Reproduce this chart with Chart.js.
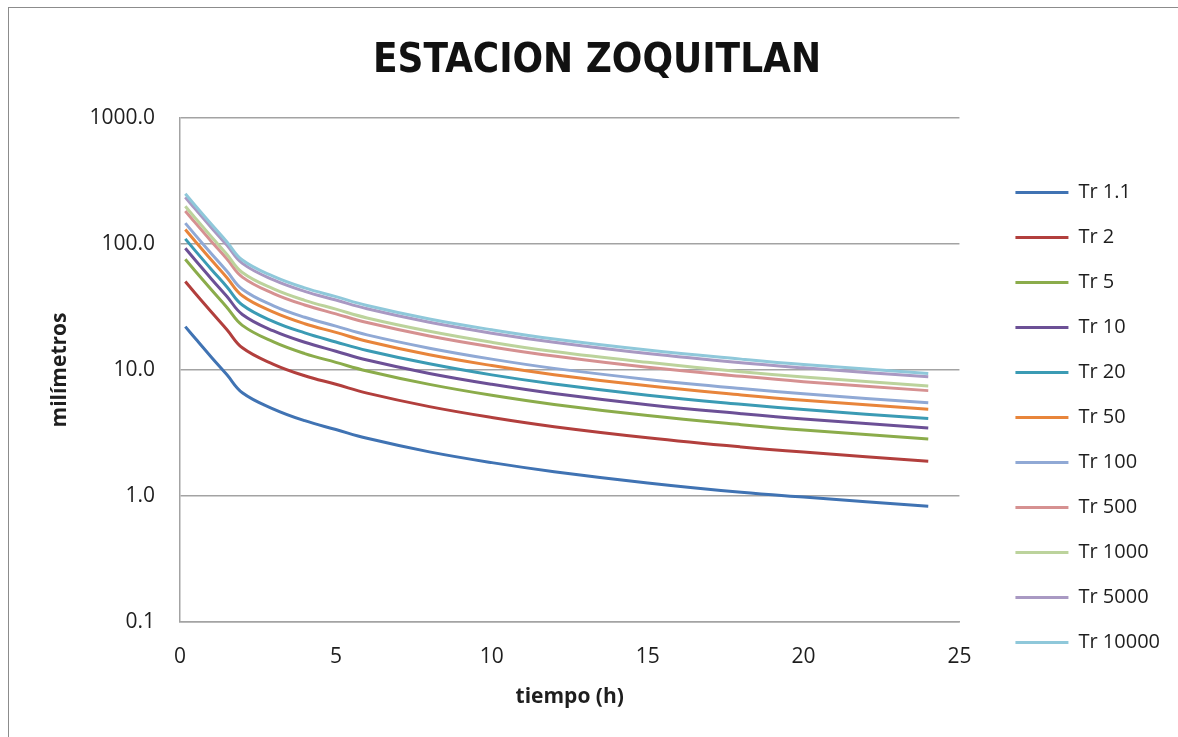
<!DOCTYPE html>
<html>
<head>
<meta charset="utf-8">
<title>ESTACION ZOQUITLAN</title>
<script src="https://cdn.jsdelivr.net/npm/chart.js@4.4.1/dist/chart.umd.min.js"></script>
<style>
  html, body { margin: 0; padding: 0; background: #fff; }
  .frame { position: absolute; left: 8px; top: 7px; width: 1200px; height: 800px; border: 1.5px solid #8c8c8c; }
  #chartWrap { position: absolute; left: 0; top: 0; width: 1178px; height: 737px; }
</style>
</head>
<body>
<div class="frame"></div>
<div id="chartWrap"><canvas id="idfChart" width="1178" height="737"></canvas></div>
<script>
// duracion (h)
const tiempos = [0.17, 0.5, 1, 1.5, 2, 3, 4, 5, 6, 8, 10, 12, 15, 18, 20, 24];

// milimetros por periodo de retorno
const tr1_1   = [22.1, 17.7, 12.7, 9.2, 6.6, 4.9, 3.96, 3.37, 2.87, 2.24, 1.84, 1.56, 1.27, 1.07, 0.98, 0.83];
const tr2     = [50.4, 40.3, 29.0, 21.0, 15.0, 11.1, 9.0, 7.7, 6.55, 5.12, 4.2, 3.55, 2.9, 2.45, 2.23, 1.89];
const tr5     = [75.6, 60.5, 43.5, 31.5, 22.6, 16.7, 13.5, 11.5, 9.83, 7.69, 6.3, 5.33, 4.35, 3.68, 3.34, 2.84];
const tr10    = [92.4, 73.9, 53.1, 38.5, 27.6, 20.4, 16.6, 14.1, 12.0, 9.39, 7.7, 6.51, 5.31, 4.5, 4.08, 3.47];
const tr20    = [109.8, 87.8, 63.1, 45.8, 32.8, 24.2, 19.7, 16.7, 14.3, 11.2, 9.15, 7.74, 6.31, 5.34, 4.85, 4.12];
const tr50    = [130.2, 104.2, 74.9, 54.3, 38.8, 28.8, 23.3, 19.9, 16.9, 13.2, 10.85, 9.18, 7.49, 6.34, 5.75, 4.88];
const tr100   = [146.4, 117.1, 84.2, 61.0, 43.7, 32.3, 26.2, 22.3, 19.0, 14.9, 12.2, 10.3, 8.42, 7.12, 6.47, 5.49];
const tr500   = [183.0, 146.4, 105.2, 76.3, 54.6, 40.4, 32.8, 27.9, 23.8, 18.6, 15.25, 12.9, 10.5, 8.91, 8.08, 6.86];
const tr1000  = [199.2, 159.4, 114.5, 83.0, 59.4, 44.0, 35.7, 30.4, 25.9, 20.3, 16.6, 14.0, 11.5, 9.69, 8.8, 7.47];
const tr5000  = [235.2, 188.2, 135.2, 98.0, 70.2, 51.9, 42.1, 35.9, 30.6, 23.9, 19.6, 16.6, 13.5, 11.4, 10.4, 8.82];
const tr10000 = [250.2, 200.2, 143.9, 104.3, 74.6, 55.3, 44.8, 38.2, 32.5, 25.4, 20.85, 17.6, 14.4, 12.2, 11.05, 9.38];

const serieNombres = ['Tr 1.1', 'Tr 2', 'Tr 5', 'Tr 10', 'Tr 20', 'Tr 50', 'Tr 100', 'Tr 500', 'Tr 1000', 'Tr 5000', 'Tr 10000'];
const serieValores = [tr1_1, tr2, tr5, tr10, tr20, tr50, tr100, tr500, tr1000, tr5000, tr10000];

const yTicks = [0.1, 1, 10, 100, 1000];
const xTicks = [0, 5, 10, 15, 20, 25];

const colores = ['#4073b3', '#b23f3d', '#8bac4b', '#6c5096', '#3b9bb4', '#e8853b',
                 '#90a9d5', '#d69191', '#bcd39c', '#a999c3', '#8fc8da'];

const textColor = '#1e1e1e';
const gridColor = '#a3a3a3';
const baseFont = "'Open Sans', 'Noto Sans', sans-serif";

function buildDatasets() {
  return serieNombres.map((nombre, i) => ({
    label: nombre,
    data: tiempos.map((t, j) => ({ x: t, y: serieValores[i][j] })),
    borderColor: colores[i],
    backgroundColor: colores[i],
    borderWidth: 3,
    pointRadius: 0,
    pointHoverRadius: 0,
    tension: 0.4,
    order: serieNombres.length - i
  }));
}

function drawChart() {
  const ctx = document.getElementById('idfChart').getContext('2d');
  new Chart(ctx, {
    type: 'line',
    data: { datasets: buildDatasets() },
    options: {
      responsive: false,
      animation: false,
      events: [],
      layout: { padding: { left: 24, right: 8, top: 0, bottom: 0 } },
      plugins: {
        title: {
          display: true,
          text: 'ESTACION ZOQUITLAN',
          color: '#111',
          font: { family: "'DejaVu Sans Condensed', sans-serif", size: 40, weight: 'bold' },
          padding: { top: 38, bottom: 32 }
        },
        legend: {
          position: 'right',
          align: 'start',
          title: { display: true, text: '', font: { size: 12 }, padding: { top: 143, bottom: 0 } },
          labels: {
            color: textColor,
            font: { family: baseFont, size: 20 },
            usePointStyle: true,
            pointStyle: 'line',
            pointStyleWidth: 53,
            padding: 25,
            sort: (a, b) => a.datasetIndex - b.datasetIndex
          }
        },
        tooltip: { enabled: false }
      },
      scales: {
        x: {
          type: 'linear',
          min: 0,
          max: 25,
          afterBuildTicks: s => { s.ticks = xTicks.map(v => ({ value: v })); },
          afterFit: s => { s.height = 115; },
          grid: { display: false, drawTicks: false },
          border: { display: true, color: gridColor, width: 1.5 },
          ticks: { color: textColor, font: { family: baseFont, size: 21 }, padding: 22 },
          title: {
            display: true,
            text: 'tiempo (h)',
            color: textColor,
            font: { family: baseFont, size: 21, weight: 'bold' },
            padding: { top: 15, bottom: 27 }
          }
        },
        y: {
          type: 'logarithmic',
          min: 0.1,
          max: 1000,
          afterBuildTicks: s => { s.ticks = yTicks.map(v => ({ value: v })); },
          afterFit: s => { s.width = 156; },
          grid: { color: gridColor, lineWidth: 1.5, drawTicks: false },
          border: { display: true, color: gridColor, width: 1.5 },
          ticks: {
            color: textColor,
            font: { family: baseFont, size: 21 },
            padding: 25,
            callback: v => Number(v).toFixed(1)
          },
          title: {
            display: true,
            text: 'milímetros',
            color: textColor,
            font: { family: baseFont, size: 21, weight: 'bold' },
            padding: { top: 23, bottom: 0 }
          }
        },
        yGap: {
          type: 'linear',
          position: 'right',
          display: true,
          afterFit: s => { s.width = 31; },
          grid: { display: false, drawTicks: false },
          border: { display: false },
          ticks: { display: false }
        }
      }
    }
  });
}

drawChart();
</script>
</body>
</html>
